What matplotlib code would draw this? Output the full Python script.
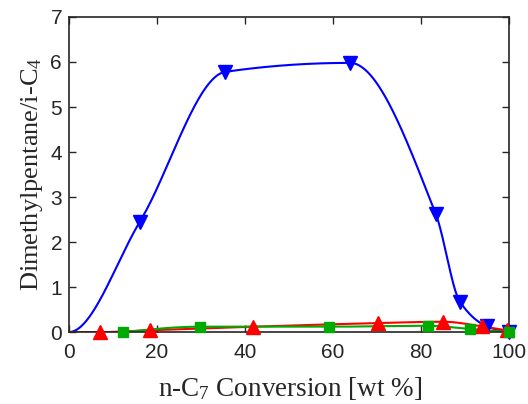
import numpy as np
import matplotlib
matplotlib.use("Agg")
import matplotlib.pyplot as plt

plt.rcParams['mathtext.fontset'] = 'custom'
plt.rcParams['mathtext.rm'] = 'Liberation Serif'
plt.rcParams['mathtext.it'] = 'Liberation Serif:italic'

# Data
blue_x = [0, 16.1, 35.5, 63.9, 83.4, 88.9, 95.0, 100.0]
blue_y = [0, 2.45, 5.78, 5.98, 2.62, 0.67, 0.13, 0.0]
red_x = [0, 7.0, 18.4, 41.9, 70.3, 85.1, 93.8, 99.5]
red_y = [0, 0.0, 0.04, 0.12, 0.20, 0.23, 0.13, 0.04]
green_x = [12.3, 29.8, 59.2, 81.7, 91.1, 100.0]
green_y = [0.0, 0.12, 0.12, 0.14, 0.07, 0.0]

xticks = [0, 20, 40, 60, 80, 100]
yticks = [0, 1, 2, 3, 4, 5, 6, 7]


def pchip(x, y, xs, flat_start=False):
    x = np.asarray(x, float); y = np.asarray(y, float)
    h = np.diff(x); d = np.diff(y) / h
    n = len(x)
    m = np.zeros(n)
    for k in range(1, n - 1):
        if d[k - 1] * d[k] > 0:
            w1 = 2 * h[k] + h[k - 1]; w2 = h[k] + 2 * h[k - 1]
            m[k] = (w1 + w2) / (w1 / d[k - 1] + w2 / d[k])
        else:
            m[k] = 0.0
    def end(h0, h1, d0, d1):
        v = ((2 * h0 + h1) * d0 - h0 * d1) / (h0 + h1)
        if np.sign(v) != np.sign(d0):
            v = 0.0
        elif np.sign(d0) != np.sign(d1) and abs(v) > abs(3 * d0):
            v = 3 * d0
        return v
    m[0] = 0.0 if flat_start else end(h[0], h[1], d[0], d[1])
    m[-1] = end(h[-1], h[-2], d[-1], d[-2])
    idx = np.clip(np.searchsorted(x, xs) - 1, 0, n - 2)
    t = (xs - x[idx]) / h[idx]
    h00 = 2 * t**3 - 3 * t**2 + 1; h10 = t**3 - 2 * t**2 + t
    h01 = -2 * t**3 + 3 * t**2; h11 = t**3 - t**2
    return h00 * y[idx] + h10 * h[idx] * m[idx] + h01 * y[idx + 1] + h11 * h[idx] * m[idx + 1]


fig = plt.figure(figsize=(5.28, 4.04), dpi=100)
ax = fig.add_axes([0.1307, 0.178, 0.833, 0.780])

series = [
    (blue_x, blue_y, '#0000ff', 'v', 9.5, 1, True),
    (red_x, red_y, '#ff0000', '^', 9.5, 1, False),
    (green_x, green_y, '#00aa00', 's', 7.5, 0, False),
]
for sx, sy, c, mk, ms, skip, flat in series:
    xs = np.linspace(sx[0], sx[-1], 500)
    ax.plot(xs, pchip(sx, sy, xs, flat), color=c, lw=1.5, zorder=2)
    ax.plot(sx[skip:], sy[skip:], ls='none', marker=mk, ms=ms, color=c,
            mec=c, clip_on=False, zorder=3)

ax.set_xlim(0, 100)
ax.set_ylim(0, 7)
ax.set_xticks(xticks)
ax.set_yticks(yticks)
ax.tick_params(direction='in', top=True, right=True, length=5, width=1,
               labelsize=15, colors='#262626')
ax.tick_params(axis='x', pad=8)
ax.tick_params(axis='y', pad=5)
for lab in ax.get_xticklabels() + ax.get_yticklabels():
    lab.set_fontfamily('Liberation Sans')
for s in ax.spines.values():
    s.set_linewidth(1.2)
    s.set_color('#262626')

ax.set_xlabel('n-C$_7$ Conversion [wt %]', family='Liberation Serif',
              fontsize=19.5, color='#262626')
ax.xaxis.set_label_coords(0.503, -0.135)
ax.set_ylabel('Dimethylpentane/i-C$_4$', family='Liberation Serif',
              fontsize=19, color='#262626')
ax.yaxis.set_label_coords(-0.055, 0.5)

fig.savefig('out.png', dpi=100)
